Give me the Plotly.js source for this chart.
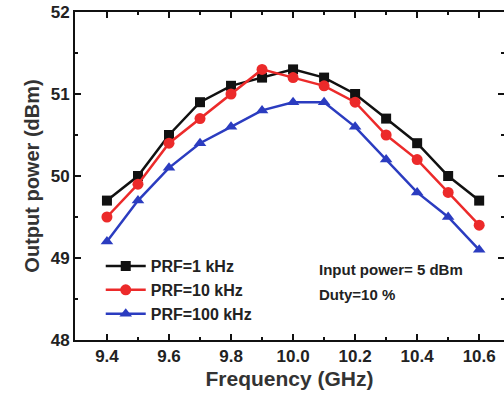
<!DOCTYPE html>
<html><head><meta charset="utf-8">
<script src="https://cdn.plot.ly/plotly-3.0.1.min.js"></script>
<style>body{margin:0;background:#fff}#c{width:504px;height:402px}</style>
</head><body><div id="c"></div>
<script>
const freq = [9.4, 9.5, 9.6, 9.7, 9.8, 9.9, 10.0, 10.1, 10.2, 10.3, 10.4, 10.5, 10.6];
const prf1 = [49.7, 50.0, 50.5, 50.9, 51.1, 51.2, 51.3, 51.2, 51.0, 50.7, 50.4, 50.0, 49.7];
const prf10 = [49.5, 49.9, 50.4, 50.7, 51.0, 51.3, 51.2, 51.1, 50.9, 50.5, 50.2, 49.8, 49.4];
const prf100 = [49.2, 49.7, 50.1, 50.4, 50.6, 50.8, 50.9, 50.9, 50.6, 50.2, 49.8, 49.5, 49.1];
const names = ['PRF=1 kHz', 'PRF=10 kHz', 'PRF=100 kHz'];
const xTicks = [9.4, 9.6, 9.8, 10.0, 10.2, 10.4, 10.6];
const xTickText = ['9.4', '9.6', '9.8', '10.0', '10.2', '10.4', '10.6'];
const yTicks = [48, 49, 50, 51, 52];

const F = 'Liberation Sans, Arial, sans-serif';
function tr(y, name, color, sym, size) {
  return {x: freq, y: y, name: name, type: 'scatter', mode: 'lines+markers',
    line: {color: color, width: 2.5}, marker: {symbol: sym, size: size, color: color}};
}
const data = [
  tr(prf1, names[0], '#111111', 'square', 10),
  tr(prf10, names[1], '#ec2a2a', 'circle', 11),
  tr(prf100, names[2], '#2b3cc0', 'triangle-up', 11)
];
const axCommon = {showline: true, linecolor: '#111', linewidth: 2, mirror: 'allticks',
  ticks: 'inside', ticklen: 6, tickwidth: 1.5, tickcolor: '#111', showgrid: false, zeroline: false,
  tickfont: {family: F, size: 17, color: '#222', weight: 'bold'}};
const layout = {
  width: 504, height: 402, margin: {l: 75, r: 0, t: 12, b: 62},
  paper_bgcolor: '#fff', plot_bgcolor: '#fff', showlegend: true,
  xaxis: Object.assign({}, axCommon, {range: [9.297, 10.68], tickvals: xTicks, ticktext: xTickText,
    minor: {dtick: 0.1, tick0: 9.3, ticks: 'inside', ticklen: 3, tickcolor: '#111'},
    title: {text: 'Frequency (GHz)', font: {family: F, size: 21, color: '#333', weight: 'bold'}, standoff: 6}}),
  yaxis: Object.assign({}, axCommon, {range: [48, 52], tickvals: yTicks,
    minor: {dtick: 0.5, ticks: 'inside', ticklen: 3, tickcolor: '#111'},
    title: {text: 'Output power (dBm)', font: {family: F, size: 20, color: '#333', weight: 'bold'}, standoff: 6}}),
  legend: {x: 0.06, y: 0.277, xanchor: 'left', yanchor: 'top', bgcolor: 'rgba(0,0,0,0)',
    font: {family: F, size: 16, color: '#222', weight: 'bold'}, tracegroupgap: 0, itemwidth: 40},
  annotations: [
    {xref: 'paper', yref: 'paper', x: 0.565, y: 0.215, xanchor: 'left', yanchor: 'middle', showarrow: false,
     text: 'Input power= 5 dBm', font: {family: F, size: 15, color: '#222', weight: 'bold'}},
    {xref: 'paper', yref: 'paper', x: 0.565, y: 0.14, xanchor: 'left', yanchor: 'middle', showarrow: false,
     text: 'Duty=10 %', font: {family: F, size: 15, color: '#222', weight: 'bold'}}
  ]
};
Plotly.newPlot('c', data, layout, {staticPlot: true});
</script></body></html>
